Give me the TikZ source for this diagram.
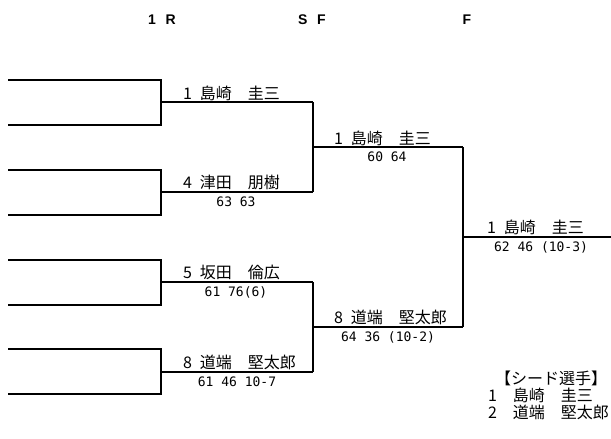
\documentclass[tikz,border=0pt]{standalone}
\usepackage{fontspec}
\setmainfont{Noto Sans CJK JP}[WordSpace=2.2]
\newfontfamily\scorefont{DejaVu Sans Mono}
\newfontfamily\headfont{Liberation Sans}[WordSpace=2.5]

\tikzset{
  player/.style={anchor=south west, inner sep=1pt, font=\fontsize{16}{16}\selectfont},
  score/.style={anchor=north, inner sep=1pt, font=\scorefont\fontsize{13}{13}\selectfont},
  roundname/.style={font=\headfont\bfseries\fontsize{14}{14}\selectfont},
  seed/.style={anchor=west, inner sep=0pt, font=\fontsize{16}{16}\selectfont}
}

\begin{document}
\begin{tikzpicture}[x=1pt,y=-1pt,line width=2pt]
        \useasboundingbox (0,0) rectangle (611,439);
        % headers
        \node[roundname] (hr1) at (162,20) {1 R};
        \node[roundname] (hsf) at (312,20) {S F};
        \node[roundname] (hf) at (467,20) {F};
        % 1R brackets
        \foreach \k in {0,...,3} {
            \pgfmathsetmacro\ya{80+89.8*\k}
            \draw (8,\ya) -- (161,\ya) -- (161,\ya+44.9) -- (8,\ya+44.9);
            \draw (161,\ya+22.45) -- (313,\ya+22.45);
        }
        % SF brackets
        \foreach \k in {0,1} {
            \pgfmathsetmacro\yb{102.45+179.6*\k}
            \draw (313,\yb) -- (313,\yb+89.8);
            \draw (313,\yb+44.9) -- (463,\yb+44.9);
        }
        % final
        \draw (463,147.35) -- (463,326.95);
        \draw (463,237.15) -- (611,237.15);
        % 1R winners
        \node[player] (wa) at (181,102.45) {1 島崎　圭三};
        \node[player] (wb) at (181,192.25) {4 津田　朋樹};
        \node[score] (sb) at (236,195) {63 63};
        \node[player] (wc) at (181,282.05) {5 坂田　倫広};
        \node[score] (sc) at (236,285) {61 76(6)};
        \node[player] (wd) at (181,371.85) {8 道端　堅太郎};
        \node[score] (sd) at (237,375) {61 46 10-7};
        % SF winners
        \node[player] (sfa) at (332,147.35) {1 島崎　圭三};
        \node[score] (ssa) at (387,150) {60 64};
        \node[player] (sfb) at (332,326.95) {8 道端　堅太郎};
        \node[score] (ssb) at (388,330) {64 36 (10-2)};
        % champion
        \node[player] (champ) at (485,237.15) {1 島崎　圭三};
        \node[score] (sch) at (541,240) {62 46 (10-3)};
        % seeds
        \node[seed] (seedt) at (494,378) {【シード選手】};
        \node[seed] (seed1) at (487,395) {1　島崎　圭三};
        \node[seed] (seed2) at (487,412) {2　道端　堅太郎};
    \end{tikzpicture}
\end{document}
